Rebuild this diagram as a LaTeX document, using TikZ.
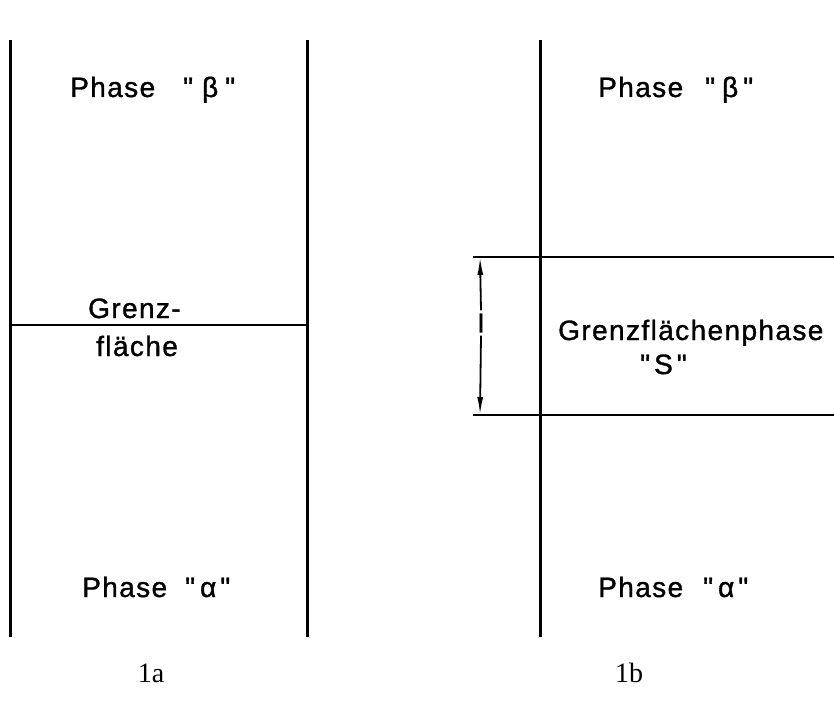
\documentclass[tikz,border=0pt]{standalone}
\usepackage{fontspec}
\usetikzlibrary{arrows.meta}
\newfontfamily\labfont[LetterSpace=5,FakeBold=1.2]{Liberation Sans}
\newfontfamily\capfont{Liberation Serif}
\begin{document}
\begin{tikzpicture}[x=1pt,y=-1pt,
  wall/.style={line width=3pt},
  bound/.style={line width=2pt},
  lab/.style={font=\labfont\fontsize{28}{32}\selectfont, inner sep=0pt, anchor=base west},
  figlab/.style={font=\capfont\fontsize{28}{32}\selectfont, inner sep=0pt},
  dim/.style={line width=1.8pt, -{Latex[length=18pt,width=6pt]}}]
\useasboundingbox (0,0) rectangle (834,706);
% Figure 1a
\coordinate (a1t) at (10,40);  \coordinate (a1b) at (10,637);
\coordinate (a2t) at (307,40); \coordinate (a2b) at (307,637);
\coordinate (ahl) at (10,325); \coordinate (ahr) at (307,325);
\draw[wall] (a1t) -- (a1b);
\draw[wall] (a2t) -- (a2b);
\draw[bound] (ahl) -- (ahr);
\node[lab] (abeta) at (70,97) {Phase\hspace{28pt}"\hspace{9pt}β\hspace{7pt}"};
\node[lab] (agr1) at (88,318) {Grenz-};
\node[lab] (agr2) at (96,356) {fläche};
\node[lab] (aalpha) at (82,597) {Phase\hspace{18pt}"\hspace{5pt}α\hspace{4pt}"};
\node[figlab] (la) at (151,673) {1a};
% Figure 1b
\coordinate (b1t) at (540,40); \coordinate (b1b) at (540,637);
\coordinate (bt1) at (473,257); \coordinate (bt2) at (834,257);
\coordinate (bb1) at (473,415); \coordinate (bb2) at (834,415);
\draw[wall] (b1t) -- (b1b);
\draw[bound] (bt1) -- (bt2);
\draw[bound] (bb1) -- (bb2);
\coordinate (dtop) at (480,257); \coordinate (dbot) at (480,415);
\node[font=\labfont\fontsize{26}{30}\selectfont, inner sep=3pt] (dl) at (481,323) {l};
\draw[dim] (dl.north) -- (dtop);
\draw[dim] (dl.south) -- (dbot);
\node[lab] (bbeta) at (598,97) {Phase\hspace{22pt}"\hspace{7pt}β\hspace{5pt}"};
\node[lab] (bgr) at (558,340) {Grenzflächenphase};
\node[lab] (bs) at (640,374) {"\hspace{4pt}S\hspace{4pt}"};
\node[lab] (balpha) at (598,597) {Phase\hspace{20pt}"\hspace{5pt}α\hspace{4pt}"};
\node[figlab] (lb) at (629,673) {1b};
\end{tikzpicture}
\end{document}
